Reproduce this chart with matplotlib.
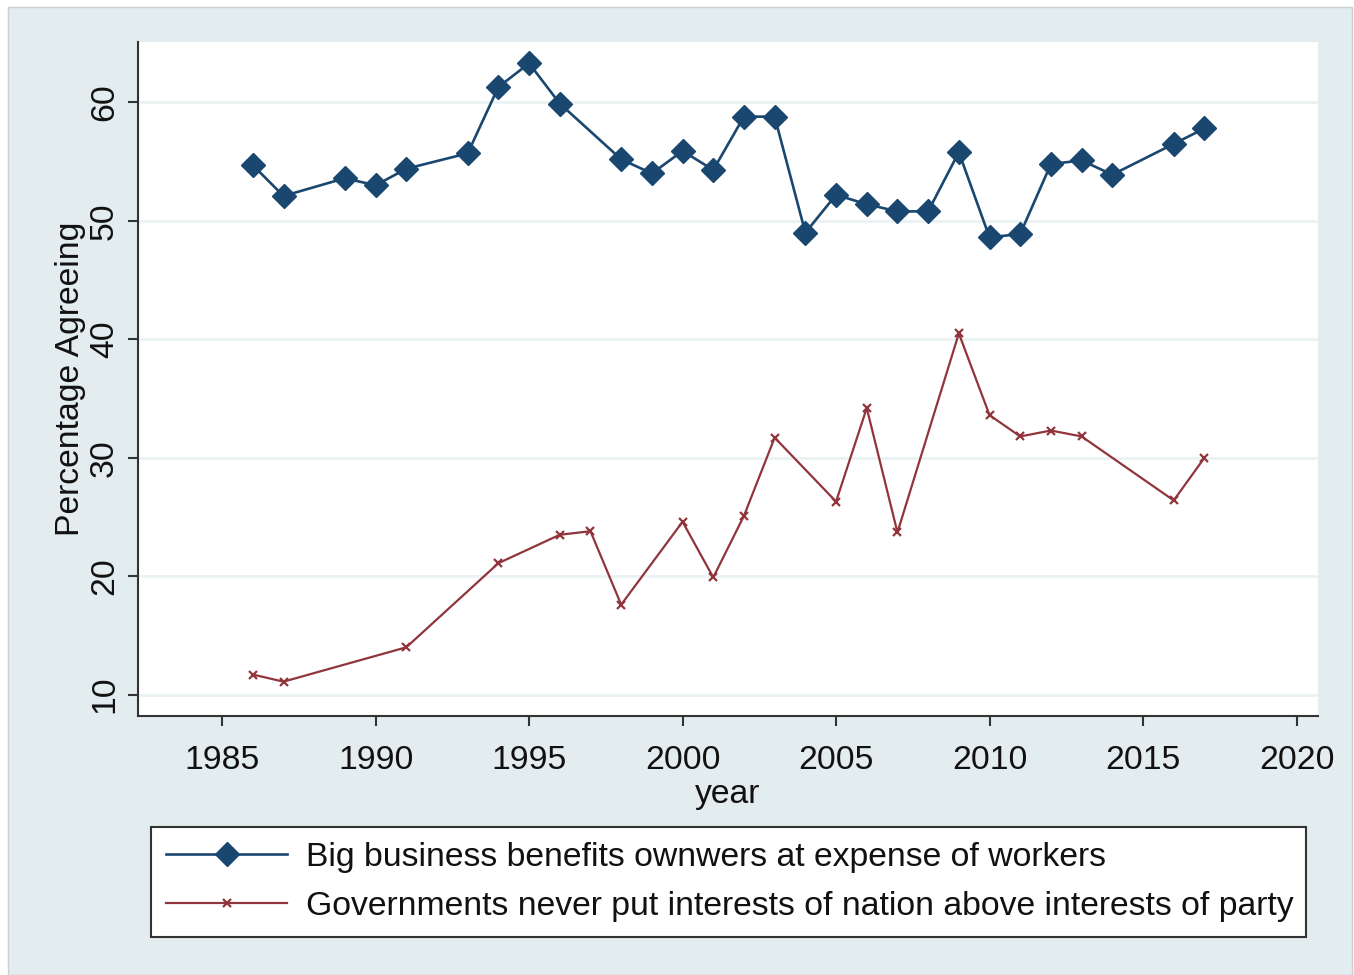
import matplotlib
matplotlib.use("Agg")
import matplotlib.pyplot as plt
from matplotlib.patches import Rectangle

years_business = [1986, 1987, 1989, 1990, 1991, 1993, 1994, 1995, 1996, 1998, 1999, 2000,
                  2001, 2002, 2003, 2004, 2005, 2006, 2007, 2008, 2009, 2010, 2011, 2012,
                  2013, 2014, 2016, 2017]
business = [54.7, 52.1, 53.6, 53.0, 54.4, 55.7, 61.3, 63.3, 59.9, 55.2, 54.0, 55.9,
            54.3, 58.8, 58.8, 49.0, 52.2, 51.4, 50.8, 50.8, 55.8, 48.6, 48.9, 54.8,
            55.1, 53.9, 56.5, 57.8]

years_gov = [1986, 1987, 1991, 1994, 1996, 1997, 1998, 2000, 2001, 2002, 2003, 2005,
             2006, 2007, 2009, 2010, 2011, 2012, 2013, 2016, 2017]
gov = [11.7, 11.1, 14.0, 21.1, 23.5, 23.8, 17.6, 24.6, 19.9, 25.1, 31.7, 26.3,
       34.2, 23.7, 40.5, 33.6, 31.8, 32.3, 31.8, 26.4, 30.0]

x_ticks = [1985, 1990, 1995, 2000, 2005, 2010, 2015, 2020]
y_ticks = [10, 20, 30, 40, 50, 60]

label_business = "Big business benefits ownwers at expense of workers"
label_gov = "Governments never put interests of nation above interests of party"

plt.rcParams['font.family'] = ['Liberation Sans', 'DejaVu Sans']
FS = 24.3

W, H = 1354, 975
fig = plt.figure(figsize=(W / 100, H / 100), dpi=100)
fig.patch.set_facecolor('white')
bg = Rectangle((8 / W, 0), (W - 10) / W, (H - 7) / H, transform=fig.transFigure,
               facecolor='#E3ECEE', edgecolor='#C9CFD1', linewidth=1, zorder=-10)
fig.patches.append(bg)

left, right, top, bottom = 138, 1318, 42, 716
ax = fig.add_axes([left / W, (H - bottom) / H, (right - left) / W, (bottom - top) / H])
ax.set_zorder(1)
ax.set_facecolor('white')

blue = '#1a476f'
red = '#90353b'

ax.plot(years_business, business, color=blue, linewidth=1.9, marker='D', markersize=12,
        markerfacecolor=blue, markeredgecolor=blue, label=label_business, zorder=3)
ax.plot(years_gov, gov, color=red, linewidth=1.6, marker='x', markersize=6,
        markeredgewidth=1.6, label=label_gov, zorder=3)

ax.set_xlim(1982.26, 2020.7)
ax.set_ylim(8.2, 65.1)
ax.set_xticks(x_ticks)
ax.set_yticks(y_ticks)
ax.grid(axis='y', color='#EAF2F3', linewidth=2)
ax.set_axisbelow(True)

for s in ['top', 'right']:
    ax.spines[s].set_visible(False)
for s in ['left', 'bottom']:
    ax.spines[s].set_color('#333333')
    ax.spines[s].set_linewidth(1.5)

ax.tick_params(axis='both', length=7, width=1.5, color='#333333', labelsize=FS, labelcolor='#111111')
ax.tick_params(axis='x', pad=14)
ax.tick_params(axis='y', pad=6)
for lbl in ax.get_yticklabels():
    lbl.set_rotation(90)
    lbl.set_va('center')

ax.set_xlabel('year', fontsize=FS, color='#111111', labelpad=2)
ax.set_ylabel('Percentage Agreeing', fontsize=FS, color='#111111', labelpad=2)

leg = fig.legend(loc='center', bbox_to_anchor=(151 / W, (H - 937) / H, 1155 / W, 110 / H),
                 mode='expand', fontsize=FS, frameon=True, fancybox=False, framealpha=1,
                 handlelength=3.58, handletextpad=0.56, labelspacing=0.55, borderpad=0.45,
                 borderaxespad=0)
leg.get_frame().set_edgecolor('#333333')
leg.get_frame().set_linewidth(1.5)
leg.get_frame().set_facecolor('white')
for t in leg.get_texts():
    t.set_color('#111111')

fig.savefig('out.png', dpi=100, facecolor=fig.get_facecolor())
